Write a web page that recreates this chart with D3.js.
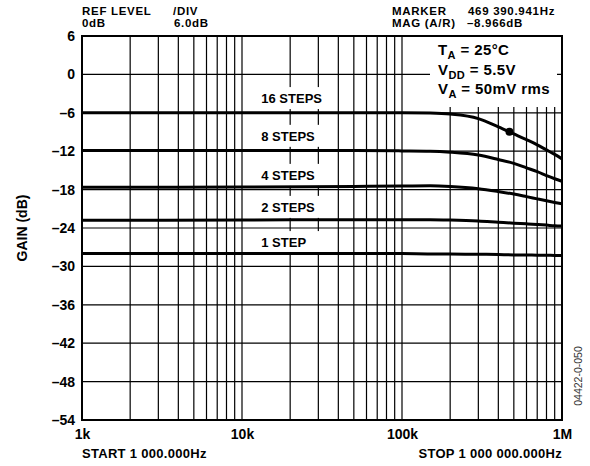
<!DOCTYPE html>
<html>
<head>
<meta charset="utf-8">
<script src="https://cdn.jsdelivr.net/npm/d3@7"></script>
<style>
  body { margin: 0; background: #fff; }
  svg text { font-family: "Liberation Sans", Arial, Helvetica, sans-serif; font-weight: bold; fill: #000; }
</style>
</head>
<body>
<svg id="chart" width="590" height="466"></svg>
<script>
// frequency points (Hz) shared by every curve
const freqs = [1000, 10000, 50000, 100000, 150000, 200000, 300000, 400000, 500000, 600000, 700000, 800000, 900000, 1000000];

// gain (dB)
const steps16 = [-6.0, -6.0, -6.0, -6.0, -6.05, -6.2, -6.9, -8.2, -9.3, -10.2, -11.0, -11.8, -12.5, -13.2];
const steps8  = [-11.9, -11.9, -11.9, -11.95, -12.0, -12.15, -12.6, -13.3, -13.9, -14.6, -15.2, -15.8, -16.3, -16.7];
const steps4  = [-17.65, -17.6, -17.5, -17.45, -17.4, -17.5, -17.85, -18.3, -18.7, -19.1, -19.45, -19.75, -20.0, -20.2];
const steps2  = [-22.8, -22.75, -22.7, -22.7, -22.7, -22.75, -22.9, -23.1, -23.25, -23.35, -23.45, -23.55, -23.65, -23.7];
const steps1  = [-28.0, -28.0, -28.0, -28.0, -28.05, -28.05, -28.1, -28.15, -28.2, -28.2, -28.25, -28.25, -28.3, -28.3];

const seriesNames = ["16 STEPS", "8 STEPS", "4 STEPS", "2 STEPS", "1 STEP"];
const seriesValues = [steps16, steps8, steps4, steps2, steps1];
// label anchor level (dB) for each curve name
const labelLevels = [-3.7, -9.6, -15.7, -20.7, -26.2];

const yTicks = [6, 0, -6, -12, -18, -24, -30, -36, -42, -48, -54];
const xTicks = [1000, 10000, 100000, 1000000];
const xTickLabels = ["1k", "10k", "100k", "1M"];

const marker = {freq: 469390.941, gain: -8.966};

// layout
const margin = {left: 82, top: 36, right: 28, bottom: 46};
const W = 590, H = 466;
const width = W - margin.left - margin.right;   // 480
const height = H - margin.top - margin.bottom;  // 384

const svg = d3.select("#chart");
const g = svg.append("g").attr("transform", `translate(${margin.left},${margin.top})`);

const x = d3.scaleLog().domain([1000, 1000000]).range([0, width]);
const y = d3.scaleLinear().domain([-54, 6]).range([height, 0]);

// grid: minor decade lines + every 6 dB
const gridX = [];
for (let dec = 1000; dec < 1000000; dec *= 10) {
    for (let k = 2; k <= 9; k++) gridX.push(dec * k);
}
gridX.push(10000, 100000);

g.selectAll("line.vgrid")
    .data(gridX)
    .enter().append("line")
    .attr("class", "vgrid")
    .attr("x1", d => x(d)).attr("x2", d => x(d))
    .attr("y1", 0).attr("y2", height)
    .attr("stroke", "#000").attr("stroke-width", 1.2);

g.selectAll("line.hgrid")
    .data(yTicks)
    .enter().append("line")
    .attr("class", "hgrid")
    .attr("x1", 0).attr("x2", width)
    .attr("y1", d => y(d)).attr("y2", d => y(d))
    .attr("stroke", "#000").attr("stroke-width", 1.2);

// white boxes behind the curve names
const labelX = x(13200);
g.selectAll("rect.lblbox")
    .data(labelLevels)
    .enter().append("rect")
    .attr("class", "lblbox")
    .attr("x", labelX - 7)
    .attr("y", d => y(d) - 11)
    .attr("width", 76)
    .attr("height", 22)
    .attr("fill", "#fff");

// conditions box
g.append("rect")
    .attr("x", 348).attr("y", 1)
    .attr("width", 127).attr("height", 70)
    .attr("fill", "#fff");

// curves
const line = d3.line()
    .x((d, i) => x(freqs[i]))
    .y(d => y(d))
    .curve(d3.curveMonotoneX);

g.selectAll("path.curve")
    .data(seriesValues)
    .enter().append("path")
    .attr("class", "curve")
    .attr("d", line)
    .attr("fill", "none")
    .attr("stroke", "#000")
    .attr("stroke-width", 3);

g.append("circle")
    .attr("cx", x(marker.freq))
    .attr("cy", y(marker.gain))
    .attr("r", 4)
    .attr("fill", "#000");

// curve names
g.selectAll("text.lbl")
    .data(seriesNames)
    .enter().append("text")
    .attr("class", "lbl")
    .attr("x", labelX)
    .attr("y", (d, i) => y(labelLevels[i]))
    .attr("dy", "0.36em")
    .attr("font-size", 13)
    .text(d => d);

// frame
g.append("rect")
    .attr("width", width).attr("height", height)
    .attr("fill", "none")
    .attr("stroke", "#000")
    .attr("stroke-width", 2);

// axes (labels only, the grid carries the lines)
const yAxis = g.append("g")
    .call(d3.axisLeft(y).tickValues(yTicks).tickSize(0).tickPadding(7)
        .tickFormat(d => d < 0 ? "\u2013" + Math.abs(d) : d));
yAxis.select(".domain").remove();
yAxis.selectAll("text").attr("font-size", 14).attr("font-family", null);

const xAxis = g.append("g")
    .attr("transform", `translate(0,${height})`)
    .call(d3.axisBottom(x).tickValues(xTicks).tickSize(0).tickPadding(9)
        .tickFormat((d, i) => xTickLabels[i]));
xAxis.select(".domain").remove();
xAxis.selectAll("text").attr("font-size", 14).attr("font-family", null);

// conditions text
const condRows = [
    {main: "T", sub: "A", rest: " = 25\u00B0C", dy: 19},
    {main: "V", sub: "DD", rest: " = 5.5V", dy: 39},
    {main: "V", sub: "A", rest: " = 50mV rms", dy: 58}
];
condRows.forEach(r => {
    const t = g.append("text").attr("x", 356).attr("y", r.dy)
        .attr("font-size", 15).attr("letter-spacing", 0.4);
    t.append("tspan").text(r.main);
    t.append("tspan").attr("font-size", 11).attr("dy", 4).text(r.sub);
    t.append("tspan").attr("dy", -4).text(r.rest);
});

// header / footer annotations
const hdr = [
    {t: "REF LEVEL", x: 82, y: 14.5},
    {t: "0dB", x: 82, y: 27},
    {t: "/DIV", x: 173, y: 14.5},
    {t: "6.0dB", x: 174, y: 27},
    {t: "MARKER", x: 392, y: 14.5},
    {t: "469 390.941Hz", x: 468, y: 14.5},
    {t: "MAG (A/R)", x: 392, y: 27},
    {t: "\u20138.966dB", x: 467, y: 27}
];
svg.selectAll("text.hdr")
    .data(hdr)
    .enter().append("text")
    .attr("class", "hdr")
    .attr("x", d => d.x).attr("y", d => d.y)
    .attr("font-size", 11.5)
    .attr("letter-spacing", 0.7)
    .text(d => d.t);

svg.append("text")
    .attr("x", 82).attr("y", 458)
    .attr("font-size", 13)
    .attr("letter-spacing", 0.3)
    .text("START 1 000.000Hz");
svg.append("text")
    .attr("x", 562).attr("y", 458)
    .attr("text-anchor", "end")
    .attr("font-size", 13)
    .attr("letter-spacing", 0.3)
    .text("STOP 1 000 000.000Hz");

svg.append("text")
    .attr("transform", `translate(27,${margin.top + height / 2}) rotate(-90)`)
    .attr("text-anchor", "middle")
    .attr("font-size", 14)
    .text("GAIN (dB)");

svg.append("text")
    .attr("transform", "translate(582,376) rotate(-90)")
    .attr("text-anchor", "middle")
    .attr("font-size", 10.5)
    .style("font-weight", "normal")
    .style("fill", "#333")
    .text("04422-0-050");
</script>
</body>
</html>
